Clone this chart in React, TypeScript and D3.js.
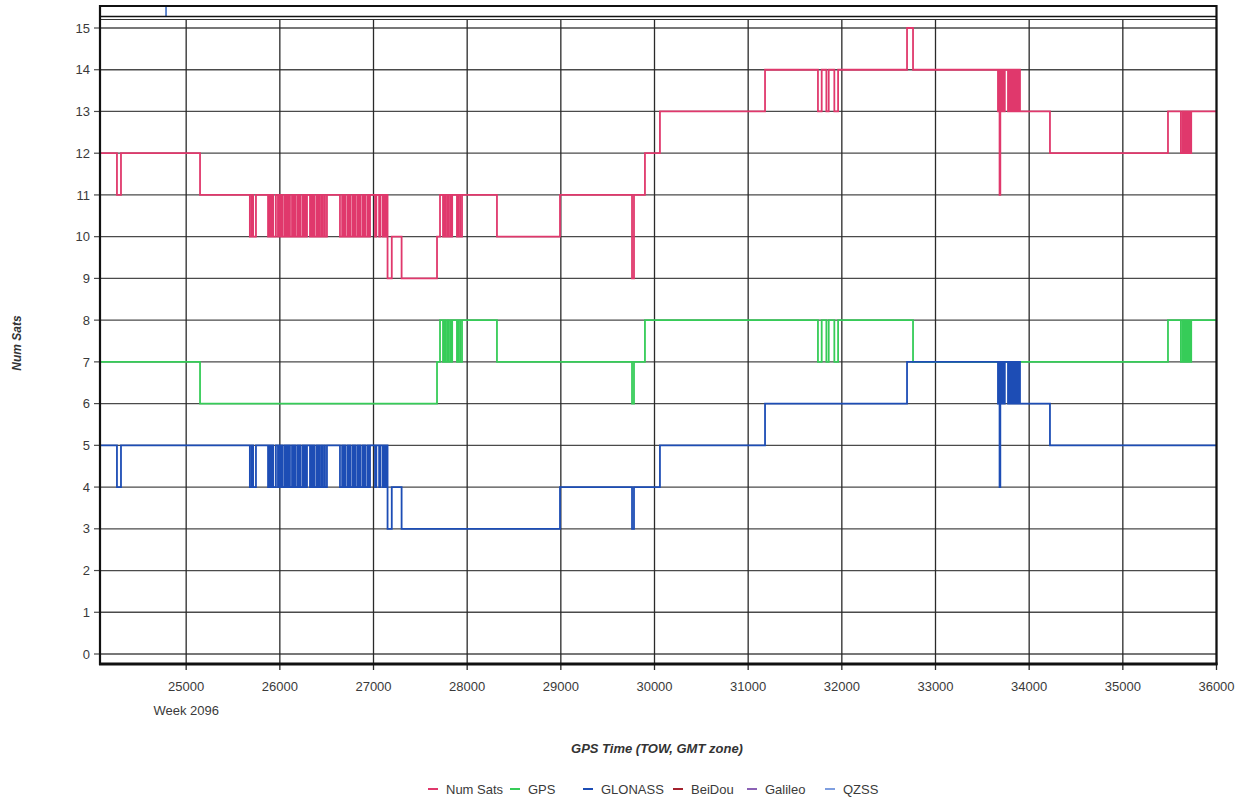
import React from "react";
import * as d3 from "d3";

// ---------- data (GPS time of week, seconds / satellite counts) ----------
const X_TICKS = [25000, 26000, 27000, 28000, 29000, 30000, 31000, 32000, 33000, 34000, 35000, 36000];
const Y_TICKS = [0, 1, 2, 3, 4, 5, 6, 7, 8, 9, 10, 11, 12, 13, 14, 15];
const WEEK_LABEL = "Week 2096";
const X_TITLE = "GPS Time (TOW, GMT zone)";
const Y_TITLE = "Num Sats";
const LEGEND = ["Num Sats", "GPS", "GLONASS", "BeiDou", "Galileo", "QZSS"];
const X_DOMAIN = [24080, 36000];
const Y_DOMAIN = [0, 15];

// dense toggling windows (intervals [start, end])
const EARLY_DENSE = [
  [25680, 25700], [25715, 25745],
  [25874, 25890], [25902, 25918], [25930, 25958],
  [25980, 25995], [26003, 26020], [26028, 26050], [26058, 26075], [26083, 26100], [26108, 26130],
  [26142, 26160], [26168, 26190], [26198, 26215], [26222, 26245], [26252, 26270], [26276, 26290],
  [26322, 26340], [26348, 26365], [26372, 26395], [26402, 26420], [26428, 26448], [26455, 26475], [26482, 26503],
  [26642, 26665], [26672, 26690], [26697, 26720], [26727, 26745], [26752, 26775], [26782, 26800],
  [26808, 26830], [26837, 26855], [26862, 26885], [26892, 26910], [26917, 26940], [26946, 26963],
  [27016, 27030], [27060, 27075], [27100, 27110], [27125, 27140],
];
const LATE_DENSE = [
  [33667, 33676], [33700, 33708], [33716, 33724], [33731, 33740],
  [33774, 33783], [33790, 33798], [33806, 33815], [33822, 33832], [33840, 33850], [33860, 33870], [33881, 33892],
];
const LATE_SPIKE = [[33684, 33692]];
const GPS_TOGGLE_A = [[27742, 27760], [27770, 27790], [27800, 27820], [27828, 27840], [27891, 27905], [27925, 27945]];
const GPS_TOGGLE_B = [[31745, 31785], [31835, 31860], [31920, 31960]];
const GPS_TOGGLE_C = [[35620, 35640], [35655, 35672], [35685, 35700], [35712, 35730]];

const NUM_SATS_STEPS = [
  [24080, 12], [24261, 11], [24304, 12], [25148, 11], [27150, 9], [27195, 10], [27300, 9],
  [27678, 10], [27710, 11], [28318, 10], [28991, 11], [29760, 9], [29781, 11], [29898, 12],
  [30058, 13], [31180, 14], [32696, 15], [32760, 14], [33902, 13], [34222, 12], [35482, 13], [36000, 13],
];
const GPS_STEPS = [
  [24080, 7], [25148, 6], [27678, 7], [27710, 8], [28318, 7], [29760, 6], [29781, 7],
  [29898, 8], [32760, 7], [35482, 8], [36000, 8],
];
const GLONASS_STEPS = [
  [24080, 5], [24261, 4], [24304, 5], [27150, 3], [27195, 4], [27300, 3], [28991, 4],
  [29760, 3], [29781, 4], [30058, 5], [31180, 6], [32696, 7], [33902, 6], [34222, 5], [36000, 5],
];
const QZSS_SPIKE_T = 24785;

// ---------- helpers ----------
function withDips(steps: number[][], groups: { dips: number[][]; low: number; high: number }[]) {
  const ev = steps.map((d) => [d[0], d[1]]);
  groups.forEach((g) => g.dips.forEach(([s, e]) => { ev.push([s, g.low]); ev.push([e, g.high]); }));
  return ev.sort((a, b) => a[0] - b[0]);
}

const numSats = withDips(NUM_SATS_STEPS, [
  { dips: EARLY_DENSE, low: 10, high: 11 },
  { dips: GPS_TOGGLE_A, low: 10, high: 11 },
  { dips: GPS_TOGGLE_B, low: 13, high: 14 },
  { dips: LATE_DENSE, low: 13, high: 14 },
  { dips: LATE_SPIKE, low: 11, high: 14 },
  { dips: GPS_TOGGLE_C, low: 12, high: 13 },
]);
const gps = withDips(GPS_STEPS, [
  { dips: GPS_TOGGLE_A, low: 7, high: 8 },
  { dips: GPS_TOGGLE_B, low: 7, high: 8 },
  { dips: GPS_TOGGLE_C, low: 7, high: 8 },
]);
const glonass = withDips(GLONASS_STEPS, [
  { dips: EARLY_DENSE, low: 4, high: 5 },
  { dips: LATE_DENSE, low: 6, high: 7 },
  { dips: LATE_SPIKE, low: 4, high: 7 },
]);

const COLORS = ["#e0386c", "#36cc58", "#1d4db5", "#a3222e", "#8b62b5", "#7f9fe0"];
const FONT = "'Liberation Sans', Arial, sans-serif";
const LEGEND_X = [428, 510, 583, 673, 747, 825];

export default function App() {
  const W = 1246, H = 801;
  const left = 100, right = 1216.5;
  const x = d3.scaleLinear().domain(X_DOMAIN).range([left, right]);
  const y = d3.scaleLinear().domain(Y_DOMAIN).range([654, 28]);
  const top = 6, bottom = 664;
  const line = d3.line<number[]>().x((d) => x(d[0])).y((d) => y(d[1])).curve(d3.curveStepAfter);

  const series = [
    { data: gps, color: COLORS[1] },
    { data: glonass, color: COLORS[2] },
    { data: numSats, color: COLORS[0] },
  ];

  return (
    <svg width={W} height={H} style={{ position: "absolute", left: 0, top: 0, background: "#fff" }} fontFamily={FONT}>
      <defs>
        <clipPath id="plot">
          <rect x={left} y={19} width={right - left} height={bottom - 19} />
        </clipPath>
      </defs>
      {/* horizontal grid */}
      {Y_TICKS.map((t) => (
        <g key={"h" + t}>
          <line x1={left} x2={right} y1={y(t)} y2={y(t)} stroke="#4a4a4a" strokeWidth={1.3} />
          <line x1={94} x2={left} y1={y(t)} y2={y(t)} stroke="#4a4a4a" strokeWidth={1.2} />
          <text x={90} y={y(t)} dy="0.36em" textAnchor="end" fontSize={13} fill="#3a3a3a">{t}</text>
        </g>
      ))}
      {/* vertical grid */}
      {X_TICKS.map((t) => (
        <g key={"v" + t}>
          <line x1={x(t)} x2={x(t)} y1={19} y2={670} stroke="#2a2a2a" strokeWidth={1.3} />
          <text x={x(t)} y={691} textAnchor="middle" fontSize={13} fill="#3a3a3a">{t}</text>
        </g>
      ))}
      <text x={x(X_TICKS[0])} y={715} textAnchor="middle" fontSize={13} fill="#3a3a3a">{WEEK_LABEL}</text>

      {/* series */}
      <g clipPath="url(#plot)">
        {series.map((s, i) => (
          <path key={i} d={line(s.data) || ""} fill="none" stroke={s.color} strokeWidth={1.8} />
        ))}
      </g>
      <line x1={x(QZSS_SPIKE_T)} x2={x(QZSS_SPIKE_T)} y1={top} y2={16} stroke="#3b6cc4" strokeWidth={1.6} />

      {/* frame */}
      <line x1={left} x2={right} y1={top} y2={top} stroke="#111" strokeWidth={2} />
      <line x1={left} x2={right} y1={16.5} y2={16.5} stroke="#111" strokeWidth={1.6} />
      <line x1={left} x2={right} y1={19.5} y2={19.5} stroke="#333" strokeWidth={1} />
      <line x1={left} x2={left} y1={top - 1} y2={bottom + 1} stroke="#111" strokeWidth={2.2} />
      <line x1={right} x2={right} y1={top - 1} y2={bottom + 1} stroke="#111" strokeWidth={2.2} />
      <line x1={left - 1} x2={right + 1} y1={bottom} y2={bottom} stroke="#111" strokeWidth={3} />

      {/* titles */}
      <text x={657} y={753} textAnchor="middle" fontSize={13} fontWeight="bold" fontStyle="italic" fill="#333">{X_TITLE}</text>
      <text transform="translate(21,343) rotate(-90)" textAnchor="middle" fontSize={12} fontWeight="bold" fontStyle="italic" fill="#333">{Y_TITLE}</text>

      {/* legend */}
      {LEGEND.map((l, i) => (
        <g key={"lg" + i}>
          <line x1={LEGEND_X[i]} x2={LEGEND_X[i] + 10} y1={789} y2={789} stroke={COLORS[i]} strokeWidth={2} />
          <text x={LEGEND_X[i] + 18} y={789} dy="0.36em" fontSize={13} fill="#3a3a3a">{l}</text>
        </g>
      ))}
    </svg>
  );
}
